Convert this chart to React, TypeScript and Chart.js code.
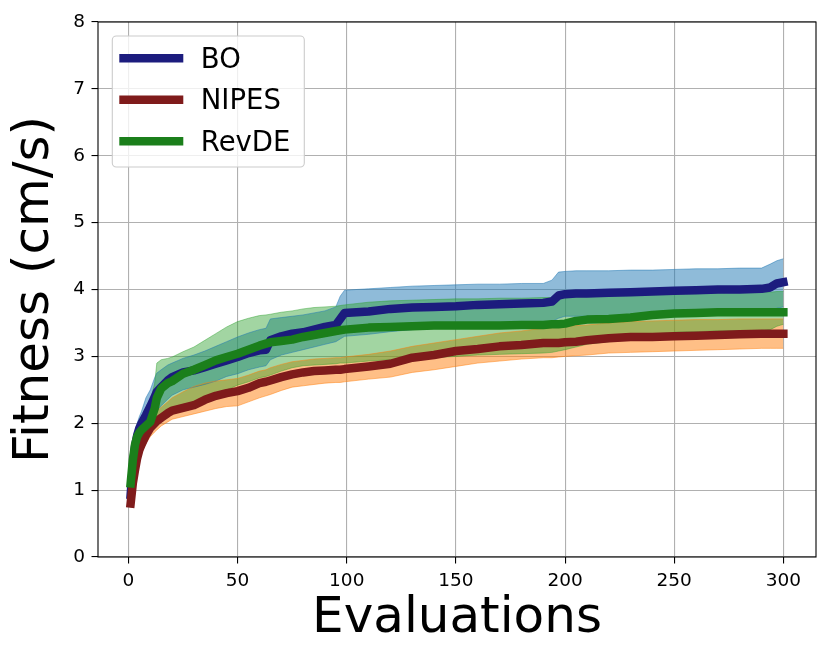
import React, { useEffect, useRef } from 'react';
import { Chart, registerables } from 'chart.js';

Chart.register(...registerables);

// evaluation numbers the curves were read at
const evals = [1, 2, 3, 4, 5, 6, 8, 10, 12, 13, 15, 18, 20, 25, 30, 35, 40, 45, 50, 55,
    60, 63, 65, 70, 75, 80, 85, 90, 95, 97, 99, 110, 120, 130, 140, 150, 160, 170, 180, 190,
    194, 197, 200, 205, 210, 220, 230, 240, 250, 260, 270, 280, 290, 294, 297, 300];

const boMean = [0.93, 1.35, 1.65, 1.82, 1.93, 2.0, 2.12, 2.25, 2.39, 2.47, 2.54, 2.64, 2.69, 2.76, 2.79, 2.84, 2.89, 2.94, 2.99, 3.05,
    3.09, 3.1, 3.24, 3.3, 3.34, 3.36, 3.4, 3.44, 3.47, 3.56, 3.65, 3.67, 3.71, 3.73, 3.74, 3.75, 3.77, 3.78, 3.79, 3.8,
    3.82, 3.91, 3.93, 3.94, 3.94, 3.95, 3.96, 3.97, 3.98, 3.99, 4.0, 4.0, 4.01, 4.03, 4.09, 4.11];
const boUpper = [1.02, 1.5, 1.85, 2.0, 2.1, 2.18, 2.38, 2.5, 2.68, 2.75, 2.8, 2.87, 2.9, 2.97, 3.02, 3.08, 3.15, 3.22, 3.29, 3.35,
    3.4, 3.42, 3.56, 3.58, 3.6, 3.62, 3.65, 3.68, 3.74, 3.9, 3.99, 4.01, 4.03, 4.05, 4.06, 4.07, 4.08, 4.08, 4.09, 4.09,
    4.14, 4.26, 4.27, 4.28, 4.28, 4.28, 4.29, 4.29, 4.3, 4.31, 4.31, 4.32, 4.32, 4.38, 4.43, 4.46];
const boLower = [0.85, 1.2, 1.45, 1.62, 1.72, 1.8, 1.9, 2.0, 2.12, 2.18, 2.26, 2.36, 2.42, 2.5, 2.54, 2.58, 2.63, 2.7, 2.74, 2.8,
    2.84, 2.86, 2.95, 3.02, 3.06, 3.1, 3.14, 3.18, 3.22, 3.26, 3.3, 3.33, 3.37, 3.4, 3.42, 3.43, 3.45, 3.46, 3.48, 3.5,
    3.52, 3.57, 3.6, 3.6, 3.6, 3.61, 3.62, 3.63, 3.64, 3.65, 3.66, 3.67, 3.68, 3.68, 3.72, 3.74];

const nipesMean = [0.8, 1.1, 1.3, 1.48, 1.6, 1.68, 1.82, 1.93, 2.0, 2.03, 2.08, 2.15, 2.19, 2.23, 2.27, 2.35, 2.41, 2.45, 2.48, 2.53,
    2.6, 2.62, 2.64, 2.69, 2.73, 2.76, 2.78, 2.79, 2.8, 2.8, 2.81, 2.85, 2.89, 2.98, 3.02, 3.08, 3.11, 3.15, 3.17, 3.2,
    3.2, 3.2, 3.21, 3.22, 3.24, 3.27, 3.29, 3.29, 3.3, 3.31, 3.32, 3.33, 3.34, 3.34, 3.34, 3.34];
const nipesUpper = [0.88, 1.2, 1.42, 1.6, 1.72, 1.8, 1.95, 2.06, 2.14, 2.18, 2.24, 2.32, 2.38, 2.47, 2.55, 2.6, 2.63, 2.65, 2.67, 2.72,
    2.78, 2.8, 2.83, 2.88, 2.92, 2.94, 2.96, 2.97, 2.98, 2.98, 2.99, 3.03, 3.08, 3.15, 3.2, 3.25, 3.3, 3.35, 3.38, 3.42,
    3.43, 3.44, 3.45, 3.46, 3.47, 3.5, 3.52, 3.53, 3.54, 3.55, 3.55, 3.56, 3.56, 3.56, 3.56, 3.56];
const nipesLower = [0.74, 1.0, 1.18, 1.36, 1.48, 1.56, 1.7, 1.8, 1.87, 1.9, 1.96, 2.02, 2.06, 2.1, 2.14, 2.18, 2.22, 2.25, 2.26, 2.32,
    2.38, 2.41, 2.43, 2.49, 2.54, 2.56, 2.58, 2.6, 2.61, 2.61, 2.62, 2.66, 2.69, 2.76, 2.8, 2.85, 2.9, 2.93, 2.96, 2.98,
    2.98, 2.99, 3.0, 3.01, 3.02, 3.05, 3.06, 3.07, 3.08, 3.09, 3.1, 3.11, 3.12, 3.12, 3.12, 3.12];

const revdeMean = [1.1, 1.45, 1.68, 1.8, 1.86, 1.9, 1.96, 2.02, 2.22, 2.38, 2.52, 2.6, 2.63, 2.74, 2.8, 2.87, 2.94, 2.99, 3.04, 3.1,
    3.16, 3.19, 3.21, 3.23, 3.25, 3.29, 3.32, 3.35, 3.38, 3.39, 3.4, 3.43, 3.44, 3.45, 3.46, 3.46, 3.46, 3.46, 3.47, 3.47,
    3.48, 3.48, 3.49, 3.53, 3.55, 3.56, 3.58, 3.62, 3.64, 3.65, 3.66, 3.66, 3.66, 3.66, 3.66, 3.66];
const revdeUpper = [1.15, 1.6, 1.8, 1.92, 2.0, 2.08, 2.2, 2.32, 2.6, 2.9, 2.95, 2.97, 2.99, 3.07, 3.14, 3.24, 3.34, 3.44, 3.52, 3.57,
    3.61, 3.62, 3.63, 3.66, 3.68, 3.71, 3.73, 3.74, 3.75, 3.76, 3.77, 3.81, 3.83, 3.84, 3.85, 3.86, 3.86, 3.87, 3.87, 3.88,
    3.88, 3.89, 3.9, 3.91, 3.91, 3.92, 3.93, 3.94, 3.94, 3.95, 3.95, 3.96, 3.96, 3.96, 3.97, 3.97];
const revdeLower = [1.02, 1.3, 1.45, 1.55, 1.62, 1.68, 1.76, 1.84, 1.95, 2.0, 2.05, 2.12, 2.15, 2.22, 2.3, 2.36, 2.42, 2.5, 2.57, 2.62,
    2.68, 2.7, 2.72, 2.78, 2.83, 2.86, 2.87, 2.88, 2.89, 2.9, 2.9, 2.93, 2.95, 2.97, 2.98, 3.0, 3.02, 3.03, 3.04, 3.05,
    3.06, 3.08, 3.1, 3.14, 3.18, 3.22, 3.27, 3.33, 3.36, 3.37, 3.38, 3.38, 3.38, 3.4, 3.45, 3.48];

const seriesNames = ['BO', 'NIPES', 'RevDE'];
const xTickValues = [0, 50, 100, 150, 200, 250, 300];
const yTickValues = [0, 1, 2, 3, 4, 5, 6, 7, 8];

const FONT = "'DejaVu Sans', 'Liberation Sans', sans-serif";
const lineColors = ['#1c1c7e', '#7f1b1b', '#1b7f1b'];
const bandColors = ['rgba(31,119,180,0.5)', 'rgba(255,127,14,0.5)', 'rgba(44,160,44,0.44)'];

const toPoints = (ys: number[]) => ys.map((y, i) => ({ x: evals[i], y }));

// matplotlib style box around the plot
const frame = {
    id: 'frame',
    afterDatasetsDraw(chart: any) {
        const { ctx, chartArea: a } = chart;
        ctx.save();
        ctx.strokeStyle = '#000';
        ctx.lineWidth = 1.1;
        ctx.strokeRect(a.left, a.top, a.right - a.left, a.bottom - a.top);
        ctx.restore();
    },
};

const boxLegend = {
    id: 'boxLegend',
    afterDraw(chart: any) {
        const { ctx, chartArea: a } = chart;
        const left = a.left + 14.3;
        const top = a.top + 14;
        ctx.save();
        ctx.beginPath();
        ctx.roundRect(left, top, 192, 131, 4);
        ctx.fillStyle = 'rgba(255,255,255,0.8)';
        ctx.fill();
        ctx.strokeStyle = '#cccccc';
        ctx.lineWidth = 1.1;
        ctx.stroke();
        seriesNames.forEach((name, i) => {
            const cy = top + 22.3 + i * 41.5;
            ctx.strokeStyle = lineColors[i];
            ctx.lineWidth = 8.5;
            ctx.lineCap = 'butt';
            ctx.beginPath();
            ctx.moveTo(left + 7, cy);
            ctx.lineTo(left + 71, cy);
            ctx.stroke();
            ctx.fillStyle = '#000';
            ctx.font = `27.5px ${FONT}`;
            ctx.textBaseline = 'alphabetic';
            ctx.textAlign = 'left';
            ctx.fillText(name, left + 88.5, cy + 9.2);
        });
        ctx.restore();
    },
};

const App: React.FC = () => {
    const canvasRef = useRef<HTMLCanvasElement>(null);

    useEffect(() => {
        document.body.style.margin = '0';
        if (!canvasRef.current) return;
        const ctx = canvasRef.current.getContext('2d');
        if (!ctx) return;

        const bands = [
            [boLower, boUpper],
            [nipesLower, nipesUpper],
            [revdeLower, revdeUpper],
        ];
        const means = [boMean, nipesMean, revdeMean];

        const bandSets: any[] = [];
        bands.forEach(([lo, hi], i) => {
            bandSets.push({
                label: seriesNames[i] + ' low',
                data: toPoints(lo),
                borderColor: bandColors[i],
                backgroundColor: bandColors[i],
                borderWidth: 1,
                pointRadius: 0,
                fill: false,
                order: 5 - i,
            });
            bandSets.push({
                label: seriesNames[i] + ' high',
                data: toPoints(hi),
                borderColor: bandColors[i],
                backgroundColor: bandColors[i],
                borderWidth: 1,
                pointRadius: 0,
                fill: '-1',
                order: 5 - i,
            });
        });
        const lineSets = means.map((m, i) => ({
            label: seriesNames[i],
            data: toPoints(m),
            borderColor: lineColors[i],
            backgroundColor: lineColors[i],
            borderWidth: 8.5,
            borderCapStyle: 'square',
            borderJoinStyle: 'round',
            pointRadius: 0,
            fill: false,
            order: 2 - i,
        }));

        const tickFont = { family: FONT, size: 18.5 };
        const titleFont = { family: FONT, size: 50, lineHeight: 1.2 };
        const grid = { color: '#b0b0b0', lineWidth: 1.1, tickColor: '#000', tickLength: 6.5, tickWidth: 1.1 };

        const chart = new Chart(ctx, {
            type: 'line',
            data: { datasets: [...bandSets, ...lineSets] as any },
            options: {
                animation: false,
                responsive: true,
                maintainAspectRatio: false,
                layout: { padding: { left: 0, top: 22, right: 15, bottom: 0 } },
                plugins: {
                    legend: { display: false },
                    tooltip: { enabled: false },
                    filler: { drawTime: 'beforeDatasetsDraw' },
                },
                scales: {
                    x: {
                        type: 'linear',
                        min: -13.95,
                        max: 314.95,
                        afterBuildTicks: (s: any) => { s.ticks = xTickValues.map((v) => ({ value: v })); },
                        afterFit: (s: any) => { s.height = 105; s.paddingLeft = 0; s.paddingRight = 0; },
                        ticks: { font: tickFont, color: '#000', padding: 6.5, maxRotation: 0, autoSkip: false },
                        grid,
                        border: { display: false },
                        title: { display: true, text: 'Evaluations', color: '#000', font: titleFont, padding: { top: 0, bottom: 13 } },
                    },
                    y: {
                        type: 'linear',
                        min: 0,
                        max: 8,
                        afterBuildTicks: (s: any) => { s.ticks = yTickValues.map((v) => ({ value: v })); },
                        afterFit: (s: any) => { s.width = 98; s.paddingTop = 0; s.paddingBottom = 0; },
                        ticks: { font: tickFont, color: '#000', padding: 6.5, autoSkip: false },
                        grid,
                        border: { display: false },
                        title: { display: true, text: 'Fitness (cm/s)', color: '#000', font: titleFont, padding: { top: 5, bottom: 0 } },
                    },
                },
            },
            plugins: [frame, boxLegend],
        });

        return () => {
            chart.destroy();
        };
    }, []);

    return (
        <div style={{ position: 'relative', width: 831, height: 662 }}>
            <canvas ref={canvasRef}></canvas>
        </div>
    );
};

export default App;
